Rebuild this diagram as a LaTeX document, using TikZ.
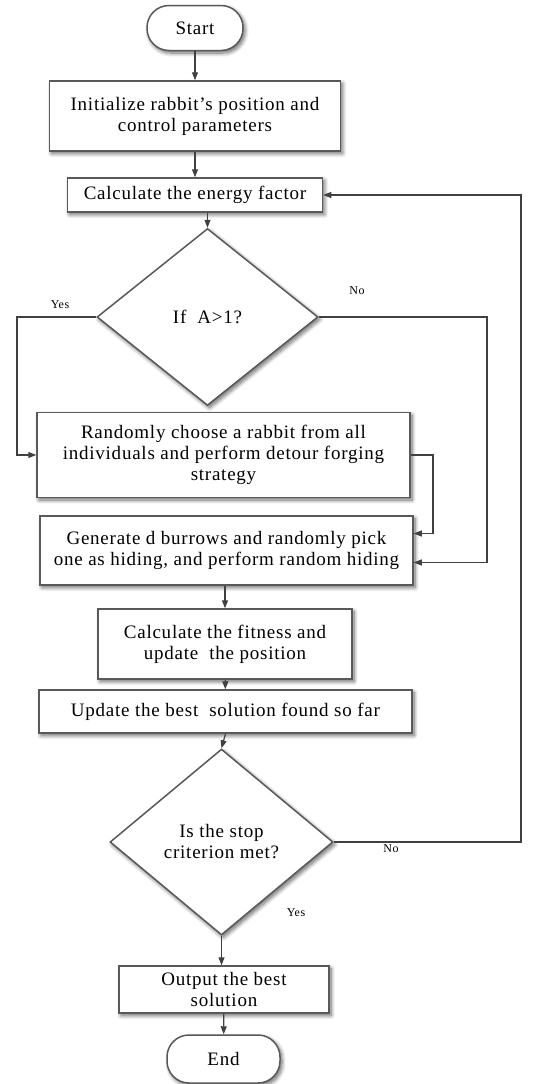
\documentclass[tikz,border=0pt]{standalone}
\usepackage{fontspec}
\setmainfont{Liberation Serif}[LetterSpace=4]
\usetikzlibrary{shapes.geometric,shapes.misc,arrows.meta,calc,shadows.blur}
\begin{document}
\begin{tikzpicture}[x=1pt,y=-1pt,
  every node/.style={font=\fontsize{19}{21}\selectfont, align=center, inner sep=0pt},
  shade/.style={blur shadow={shadow xshift=2pt, shadow yshift=-2.5pt, shadow blur radius=4pt, shadow blur steps=8, shadow opacity=60}},
  procbox/.style={rectangle, draw=black!65, line width=1.5pt, fill=white, shade},
  termbox/.style={rectangle, rounded corners=22pt, draw=black!65, line width=1.5pt, fill=white, shade},
  decbox/.style={diamond, draw=black!65, line width=1.5pt, fill=white, shade},
  arr/.style={draw=black!75, line width=1.2pt, -{Triangle[length=8pt,width=6pt]}},
  lab/.style={font=\fontsize{12}{14}\selectfont}
]
\useasboundingbox (0,0) rectangle (534,1084);

\node[termbox, minimum width=96pt, minimum height=45pt] (start) at (195,28) {Start};
\node[procbox, minimum width=291pt, minimum height=70pt] (init) at (195,116) {Initialize rabbit’s position and\\control parameters};
\node[procbox, minimum width=255pt, minimum height=34pt] (energy) at (195,195) {Calculate the energy factor};
\node[decbox, minimum width=221pt, minimum height=177pt] (d1) at (207.5,317) {If\ \ A>1?};
\node[procbox, minimum width=373pt, minimum height=85pt] (rand) at (223.5,455) {Randomly choose a rabbit from all\\individuals and perform detour forging\\strategy};
\node[procbox, minimum width=373pt, minimum height=69pt] (gen) at (226.5,550.5) {Generate d burrows and randomly pick\\one as hiding, and perform random hiding};
\node[procbox, minimum width=254pt, minimum height=70pt] (fit) at (225,644) {Calculate the fitness and\\update\ \ the position};
\node[procbox, minimum width=373pt, minimum height=43pt] (upd) at (225.5,711.5) {Update the best\ \ solution found so far};
\node[decbox, minimum width=223pt, minimum height=186pt] (d2) at (221.5,842) {Is the stop\\criterion met?};
\node[procbox, minimum width=210pt, minimum height=47pt] (out) at (224,989.5) {Output the best\\solution};
\node[termbox, minimum width=113pt, minimum height=48pt] (end) at (223.5,1059) {End};

\node[lab] (yes1) at (60,305) {Yes};
\node[lab] (no1) at (357,291) {No};
\node[lab] (no2) at (391,849) {No};
\node[lab] (yes2) at (296,913) {Yes};

\coordinate (yl) at (17,317);
\coordinate (nl) at (487,317);
\coordinate (rj) at (433,455);
\coordinate (rl) at (521,842);

\draw[arr] (start) -- (init);
\draw[arr] (init) -- (energy);
\draw[arr] (d1.north |- energy.south) -- (d1.north);
\draw[arr] (d1.west) -- (yl) |- (rand.west);
\draw[arr] (d1.east) -- (nl) |- ($(gen.east)+(0,12)$);
\draw[arr] (rand.east) -- (rj) |- ($(gen.east)+(0,-17)$);
\draw[arr] (gen.south -| fit.north) -- (fit.north);
\draw[arr] (fit) -- (upd);
\draw[arr] (upd.south) -- (d2.north);
\draw[arr] (d2.east) -- (rl) |- (energy.east);
\draw[arr] (d2.south) -- (out.north -| d2.south);
\draw[arr] (out) -- (end);
\end{tikzpicture}
\end{document}
